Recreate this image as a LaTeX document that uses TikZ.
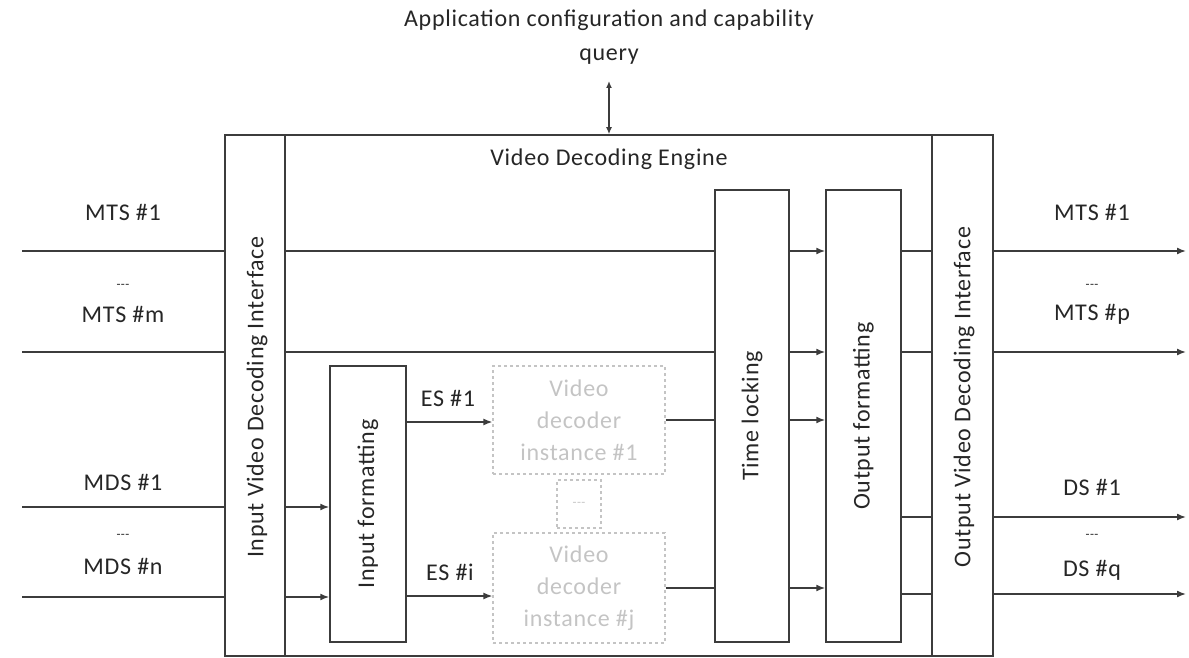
\documentclass[tikz,border=0pt]{standalone}
\usepackage{fontspec}
\setmainfont{Carlito}[LetterSpace=3]
\usetikzlibrary{arrows.meta}
\definecolor{linecolor}{HTML}{3c3c3c}
\definecolor{ghostcolor}{HTML}{c4c4c4}

\begin{document}
\begin{tikzpicture}[
    x=1pt, y=-1pt,
    every node/.style={font=\fontsize{24}{28}\selectfont, inner sep=0pt, text=black!85},
    box/.style={rectangle, draw=linecolor, line width=1.5pt},
    ghost/.style={rectangle, draw=ghostcolor, line width=1.2pt, dashed,
                  text=ghostcolor, align=center,
                  font=\fontsize{24}{32}\selectfont},
    wire/.style={draw=linecolor, line width=1.5pt},
    sig/.style={wire, -{Latex[length=9pt,width=7pt]}},
    dots/.style={font=\fontsize{13}{14}\selectfont}
]
\useasboundingbox (0,0) rectangle (1189,658);

% frame and interfaces
\node[box, minimum width=768pt, minimum height=521pt] (engine) at (609,395.5) {};
\node[box, minimum width=60pt, minimum height=521pt] (inif) at (255,395.5) {};
\node[box, minimum width=61pt, minimum height=521pt] (outif) at (962.5,395.5) {};
\node[rotate=90] at (257,397) {Input Video Decoding Interface};
\node[rotate=90] at (964,397) {Output Video Decoding Interface};
\node (title) at (609,159) {Video Decoding Engine};

% inner blocks
\node[box, minimum width=76pt, minimum height=276pt] (infmt) at (368,504) {};
\node[box, minimum width=74pt, minimum height=452pt] (timelock) at (752,416) {};
\node[box, minimum width=75pt, minimum height=452pt] (outfmt) at (863.5,416) {};
\node[rotate=90] at (infmt) {Input formatting};
\node[rotate=90] at (timelock) {Time locking};
\node[rotate=90] at (outfmt) {Output formatting};
\node[ghost, minimum width=172pt, minimum height=108pt] (dec1) at (579,420) {Video\\decoder\\instance \#1};
\node[ghost, minimum width=44pt, minimum height=48pt, font=\fontsize{13}{14}\selectfont] (decdots) at (579,504) {-{}-{}-};
\node[ghost, minimum width=172pt, minimum height=110pt] (decj) at (579,588) {Video\\decoder\\instance \#j};

% application query
\node[align=center, font=\fontsize{24}{34}\selectfont] (app) at (609,37)
    {Application configuration and capability\\query};
\coordinate (append) at (609,81);
\draw[wire, {Latex[length=7pt,width=6pt]}-{Latex[length=7pt,width=6pt]}] (append) -- (engine.north -| append);

% transport streams straight through
\foreach \y/\n in {251/mtsa, 352/mtsb} {
    \coordinate (\n in) at (22,\y);
    \coordinate (\n out) at (1186,\y);
    \draw[wire] (\n in) -- (inif.west |- \n in);
    \draw[wire] (inif.east |- \n in) -- (timelock.west |- \n in);
    \draw[sig] (timelock.east |- \n in) -- (outfmt.west |- \n in);
    \draw[wire] (outfmt.east |- \n in) -- (outif.west |- \n in);
    \draw[sig] (outif.east |- \n in) -- (\n out);
}

% decoding streams in
\foreach \y/\n in {507/mdsa, 597/mdsb} {
    \coordinate (\n) at (22,\y);
    \draw[wire] (\n) -- (inif.west |- \n);
    \draw[sig] (inif.east |- \n) -- (infmt.west |- \n);
}

% elementary streams
\coordinate (esa) at (448,422);
\coordinate (esb) at (448,596);
\draw[sig] (infmt.east |- esa) -- (dec1.west |- esa);
\draw[sig] (infmt.east |- esb) -- (decj.west |- esb);
\draw[wire] (dec1.east) -- (timelock.west |- dec1.east);
\draw[wire] (decj.east) -- (timelock.west |- decj.east);
\draw[sig] (timelock.east |- dec1.east) -- (outfmt.west |- dec1.east);
\draw[sig] (timelock.east |- decj.east) -- (outfmt.west |- decj.east);

% decoded streams out
\foreach \y/\n in {517/dsa, 594/dsb} {
    \coordinate (\n) at (1186,\y);
    \draw[wire] (outfmt.east |- \n) -- (outif.west |- \n);
    \draw[sig] (outif.east |- \n) -- (\n);
}

% stream labels
\node (l1) at (123,212) {MTS \#1};
\node[dots] (l2) at (123,286) {-{}-{}-};
\node (l3) at (123,314) {MTS \#m};
\node (l4) at (123,482) {MDS \#1};
\node[dots] (l5) at (123,536) {-{}-{}-};
\node (l6) at (123,566) {MDS \#n};
\node (r1) at (1092,212) {MTS \#1};
\node[dots] (r2) at (1092,286) {-{}-{}-};
\node (r3) at (1092,314) {MTS \#p};
\node (r4) at (1092,487) {DS \#1};
\node[dots] (r5) at (1092,536) {-{}-{}-};
\node (r6) at (1092,570) {DS \#q};
\node (es1) at (448,398) {ES \#1};
\node (es2) at (450,572) {ES \#i};
\end{tikzpicture}
\end{document}
